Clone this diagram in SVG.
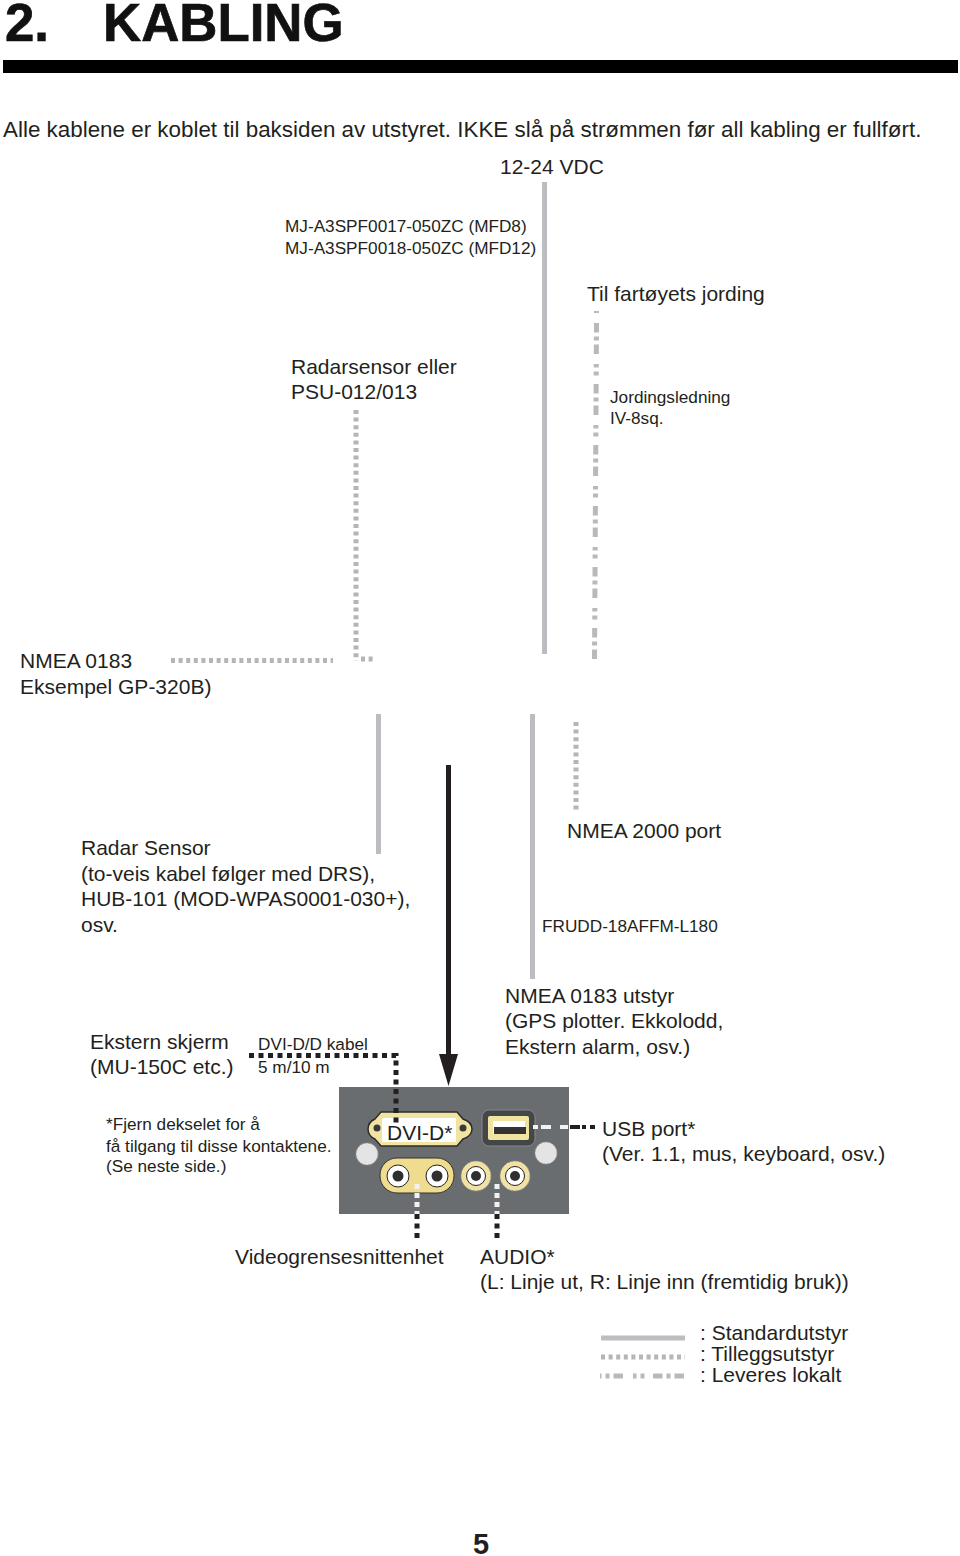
<svg xmlns="http://www.w3.org/2000/svg" width="960" height="1556" viewBox="0 0 960 1556">
<style>
text{font-family:"Liberation Sans",Arial,sans-serif;fill:#231f20;font-size:21px}
.sm{font-size:17.2px}
.h{font-size:52.8px;font-weight:bold;fill:#111;stroke:#111;stroke-width:.7}
.std{fill:none;stroke:#bcbdc0;stroke-width:5}
.opt{fill:none;stroke:#b4b5b8;stroke-width:5;stroke-dasharray:4 3.6}
.loc{fill:none;stroke:#b8b9bc;stroke-width:5;stroke-dasharray:9.5 4 4 4 9.5 10 3.5 4 4 8.5}
.blk{fill:none;stroke:#231f20;stroke-width:5}
.dot{fill:none;stroke:#231f20;stroke-width:5;stroke-dasharray:5 4.5}
.wd{fill:none;stroke:#f2f2f2;stroke-width:5;stroke-dasharray:5 4}
.jack{fill:#fff;stroke:#231f20;stroke-width:1}
.core{fill:#2f2f2f}
.ring{fill:#efe2a4;stroke:#8f8f86;stroke-width:1;stroke-dasharray:2 1.5}
</style>

<g id="heading">
<text class="h" x="5" y="41">2.</text>
<text class="h" x="103" y="41">KABLING</text>
<rect x="3" y="60" width="955" height="13" fill="#000"/>
</g>
<text id="intro" x="3" y="137" style="font-size:22.4px">Alle kablene er koblet til baksiden av utstyret. IKKE slå på strømmen før all kabling er fullført.</text>

<g id="panel">
<rect x="339" y="1087" width="230" height="127" fill="#6a6d6f"/>
<g id="dvi-port">
<path d="M381 1112H457L463 1119Q472 1122 472 1129Q472 1136 463 1139L457 1146H381L375 1139Q368 1136 368 1129Q368 1122 375 1119Z" fill="#f1e3a0" stroke="#2c2c2c" stroke-width="1.500"/>
<rect x="382" y="1118" width="74" height="24" fill="#fff"/>
<circle cx="377" cy="1128" r="3.500" fill="#3a3a3a"/>
<circle cx="463" cy="1128" r="3.500" fill="#3a3a3a"/>
</g>
<g id="usb-port">
<rect x="482" y="1110" width="53" height="36" rx="7" fill="#44474a" stroke="#888" stroke-width="1"/>
<rect x="488" y="1116" width="41" height="24" rx="2" fill="#f1e3a0"/>
<rect x="493" y="1121" width="32" height="13" fill="#fff"/>
<rect x="494" y="1127" width="32" height="7" fill="#333"/>
</g>
<g id="screws">
<circle cx="367" cy="1154" r="11" fill="#e4e4e4" stroke="#999" stroke-dasharray="2 1.500"/>
<circle cx="546" cy="1153" r="11" fill="#e4e4e4" stroke="#999" stroke-dasharray="2 1.500"/>
</g>
<g id="video-jacks">
<rect x="380" y="1158" width="74" height="35" rx="17" fill="#efdc8e" stroke="#333" stroke-width="1"/>
<circle class="jack" cx="398" cy="1176" r="11"/>
<circle class="core" cx="398" cy="1176" r="5.500"/>
<circle class="jack" cx="437" cy="1176" r="11"/>
<circle class="core" cx="437" cy="1176" r="5.500"/>
</g>
<g id="audio-jacks">
<circle class="ring" cx="476" cy="1176" r="15"/>
<circle class="jack" cx="476" cy="1176" r="9.500"/>
<circle class="core" cx="476" cy="1176" r="5"/>
<circle class="ring" cx="515" cy="1176" r="15"/>
<circle class="jack" cx="515" cy="1176" r="9.500"/>
<circle class="core" cx="515" cy="1176" r="5"/>
</g>
<text x="387" y="1140">DVI-D*</text>
</g>

<g id="connectors">
<path class="std" d="M544.5 182V654"/>
<path class="loc" d="M596.500 311V313"/>
<path class="loc" d="M596.500 323L594.500 660"/>
<path class="opt" d="M356 410V661"/>
<path class="opt" d="M361 659H373"/>
<path class="opt" d="M171 660.500H333"/>
<path class="std" d="M378.500 714V854"/>
<path class="std" d="M532.500 714V979"/>
<path class="opt" d="M576 722V812"/>
<path class="blk" d="M448.500 765V1056"/>
<path d="M439 1054H458L448.500 1086Z" fill="#231f20"/>
<path class="dot" d="M249 1055.500H396V1125"/>
<path d="M533 1127H538M541 1127H551M560 1127H568" fill="none" stroke="#f2f2f2" stroke-width="4"/>
<path d="M570 1127H580M582 1127H586M590 1127H595" fill="none" stroke="#231f20" stroke-width="4"/>
<path class="wd" d="M417 1184V1214"/>
<path class="dot" d="M417 1214V1241"/>
<path class="wd" d="M497 1184V1214"/>
<path class="dot" d="M497 1214V1241"/>
</g>

<g id="power"><text x="500" y="174">12-24 VDC</text></g>
<g id="power-cable">
<text class="sm" x="285" y="232">MJ-A3SPF0017-050ZC (MFD8)</text>
<text class="sm" x="285" y="254">MJ-A3SPF0018-050ZC (MFD12)</text>
</g>
<g id="ground"><text x="587" y="301">Til fartøyets jording</text></g>
<g id="radar"><text x="291" y="374">Radarsensor eller</text><text x="291" y="399">PSU-012/013</text></g>
<g id="ground-wire"><text class="sm" x="610" y="403">Jordingsledning</text><text class="sm" x="610" y="424">IV-8sq.</text></g>
<g id="nmea0183"><text x="20" y="668">NMEA 0183</text><text x="20" y="694">Eksempel GP-320B)</text></g>
<g id="radar-sensor">
<text x="81" y="855">Radar Sensor</text>
<text x="81" y="881">(to-veis kabel følger med DRS),</text>
<text x="81" y="906">HUB-101 (MOD-WPAS0001-030+),</text>
<text x="81" y="932">osv.</text>
</g>
<g id="nmea2000"><text x="567" y="838">NMEA 2000 port</text></g>
<g id="frudd"><text class="sm" x="542" y="932">FRUDD-18AFFM-L180</text></g>
<g id="nmea-equipment">
<text x="505" y="1003">NMEA 0183 utstyr</text>
<text x="505" y="1028">(GPS plotter. Ekkolodd,</text>
<text x="505" y="1054">Ekstern alarm, osv.)</text>
</g>
<g id="monitor"><text x="90" y="1049">Ekstern skjerm</text><text x="90" y="1074">(MU-150C etc.)</text></g>
<g id="dvi-cable"><text class="sm" x="258" y="1050">DVI-D/D kabel</text><text class="sm" x="258" y="1073">5 m/10 m</text></g>
<g id="cover-note">
<text class="sm" x="106" y="1130">*Fjern dekselet for å</text>
<text class="sm" x="106" y="1152">få tilgang til disse kontaktene.</text>
<text class="sm" x="106" y="1172">(Se neste side.)</text>
</g>
<g id="usb"><text x="602" y="1136">USB port*</text><text x="602" y="1161">(Ver. 1.1, mus, keyboard, osv.)</text></g>
<g id="video"><text x="235" y="1264">Videogrensesnittenhet</text></g>
<g id="audio"><text x="480" y="1264">AUDIO*</text><text x="480" y="1289">(L: Linje ut, R: Linje inn (fremtidig bruk))</text></g>

<g id="legend">
<path class="std" d="M601 1338H685"/>
<path class="opt" d="M601 1357H685"/>
<path class="loc" stroke-dashoffset="8" style="stroke-dashoffset:8" d="M600 1376H685"/>
<text x="700" y="1340">: Standardutstyr</text>
<text x="700" y="1361">: Tilleggsutstyr</text>
<text x="700" y="1382">: Leveres lokalt</text>
</g>
<text id="page-number" x="473" y="1554" style="font-size:29px;font-weight:bold">5</text>
</svg>
